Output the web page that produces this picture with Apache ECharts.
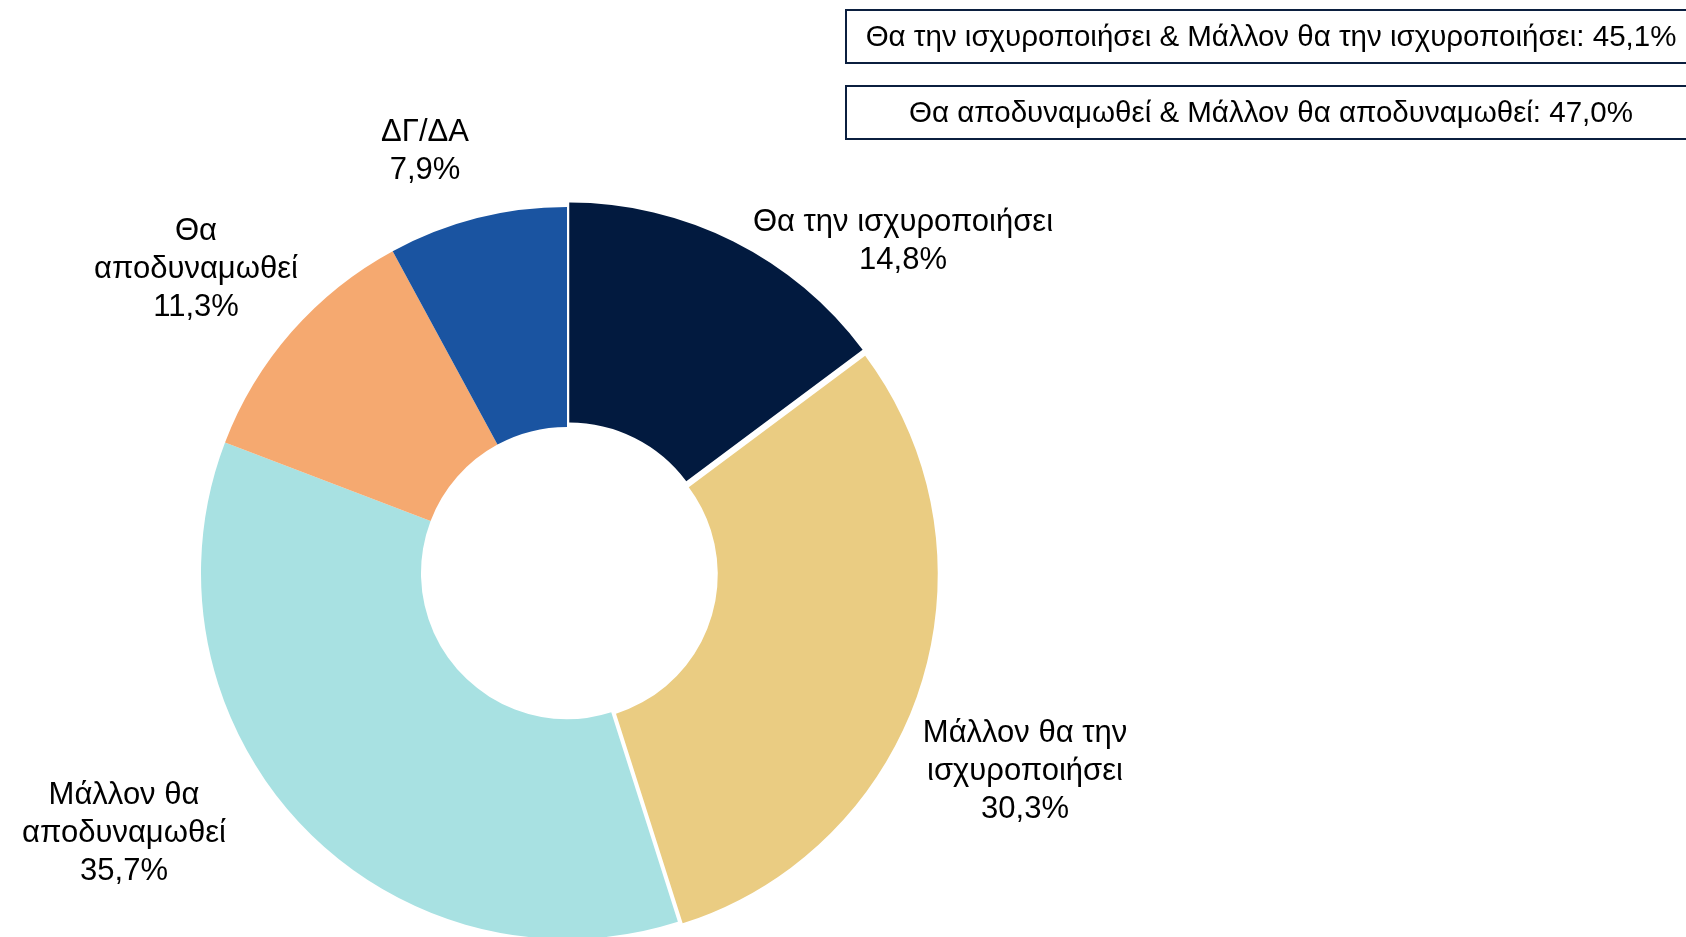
<!DOCTYPE html>
<html>
<head>
<meta charset="utf-8">
<script src="https://cdn.jsdelivr.net/npm/echarts@6/dist/echarts.min.js"></script>
<style>
  html, body { margin: 0; padding: 0; background: #fff; }
  #chart { width: 1686px; height: 937px; }
</style>
</head>
<body>
<div id="chart"></div>
<script>
// categories, clockwise from the top
var categories = [
  "Θα την ισχυροποιήσει",
  "Μάλλον θα την ισχυροποιήσει",
  "Μάλλον θα αποδυναμωθεί",
  "Θα αποδυναμωθεί",
  "ΔΓ/ΔΑ"
];
// wrapped the way the labels appear
var labelNames = [
  "Θα την ισχυροποιήσει",
  "Μάλλον θα την\nισχυροποιήσει",
  "Μάλλον θα\nαποδυναμωθεί",
  "Θα\nαποδυναμωθεί",
  "ΔΓ/ΔΑ"
];
var shares = [14.8, 30.3, 35.7, 11.3, 7.9];
var pulledOut = [true, true, false, false, false];

var colors = ["#021a3f", "#eacc82", "#a8e1e2", "#f5a970", "#1a54a1"];
var cx = 567, cy = 573;
// label centre, relative to the pie centre
var labelSpots = [[336, -332], [458, 198], [-443, 260], [-371, -304], [-142, -422]];

function pct(v) {
  return v.toFixed(1).replace(".", ",") + "%";
}

var chart = echarts.init(document.getElementById("chart"));

var sliceData = categories.map(function (name, i) {
  return {
    name: name,
    value: shares[i],
    selected: pulledOut[i],
    itemStyle: { color: colors[i] }
  };
});
var labelData = categories.map(function (name, i) {
  return { name: name, value: shares[i] };
});

var boxOne = categories[0] + " & " + categories[1] + ": " + pct(shares[0] + shares[1]);
var boxTwo = categories[3] + " & " + categories[2] + ": " + pct(shares[3] + shares[2]);
var boxFont = "29.5px 'Liberation Sans', Arial, sans-serif";

var option = {
  backgroundColor: "#ffffff",
  animation: false,
  textStyle: { fontFamily: "Liberation Sans, Arial, sans-serif" },
  graphic: [
    {
      type: "rect",
      shape: { x: 846, y: 10, width: 860, height: 53 },
      style: { fill: "#ffffff", stroke: "#0b1f3f", lineWidth: 2 }
    },
    {
      type: "text",
      style: { x: 1271, y: 38, text: boxOne, align: "center", verticalAlign: "middle", fill: "#000", font: boxFont }
    },
    {
      type: "rect",
      shape: { x: 846, y: 86, width: 860, height: 53 },
      style: { fill: "#ffffff", stroke: "#0b1f3f", lineWidth: 2 }
    },
    {
      type: "text",
      style: { x: 1271, y: 114, text: boxTwo, align: "center", verticalAlign: "middle", fill: "#000", font: boxFont }
    }
  ],
  series: [
    {
      // the ring itself
      type: "pie",
      center: [cx, cy],
      radius: [146, 366],
      startAngle: 90,
      clockwise: true,
      selectedMode: "multiple",
      selectedOffset: 5,
      label: { show: false },
      labelLine: { show: false },
      emphasis: { disabled: true },
      silent: true,
      data: sliceData
    },
    {
      // same values, invisible, only carries the labels
      type: "pie",
      center: [cx, cy],
      radius: [146, 366],
      startAngle: 90,
      clockwise: true,
      avoidLabelOverlap: false,
      itemStyle: { color: "rgba(0,0,0,0)" },
      label: {
        show: true,
        position: "outside",
        color: "#000",
        fontSize: 31,
        lineHeight: 38,
        formatter: function (p) {
          return labelNames[p.dataIndex] + "\n" + pct(p.value);
        }
      },
      labelLine: { show: false },
      labelLayout: function (p) {
        var s = labelSpots[p.dataIndex];
        return { x: cx + s[0], y: cy + s[1], align: "center", verticalAlign: "middle" };
      },
      emphasis: { disabled: true },
      silent: true,
      data: labelData
    }
  ]
};

chart.setOption(option);
</script>
</body>
</html>
